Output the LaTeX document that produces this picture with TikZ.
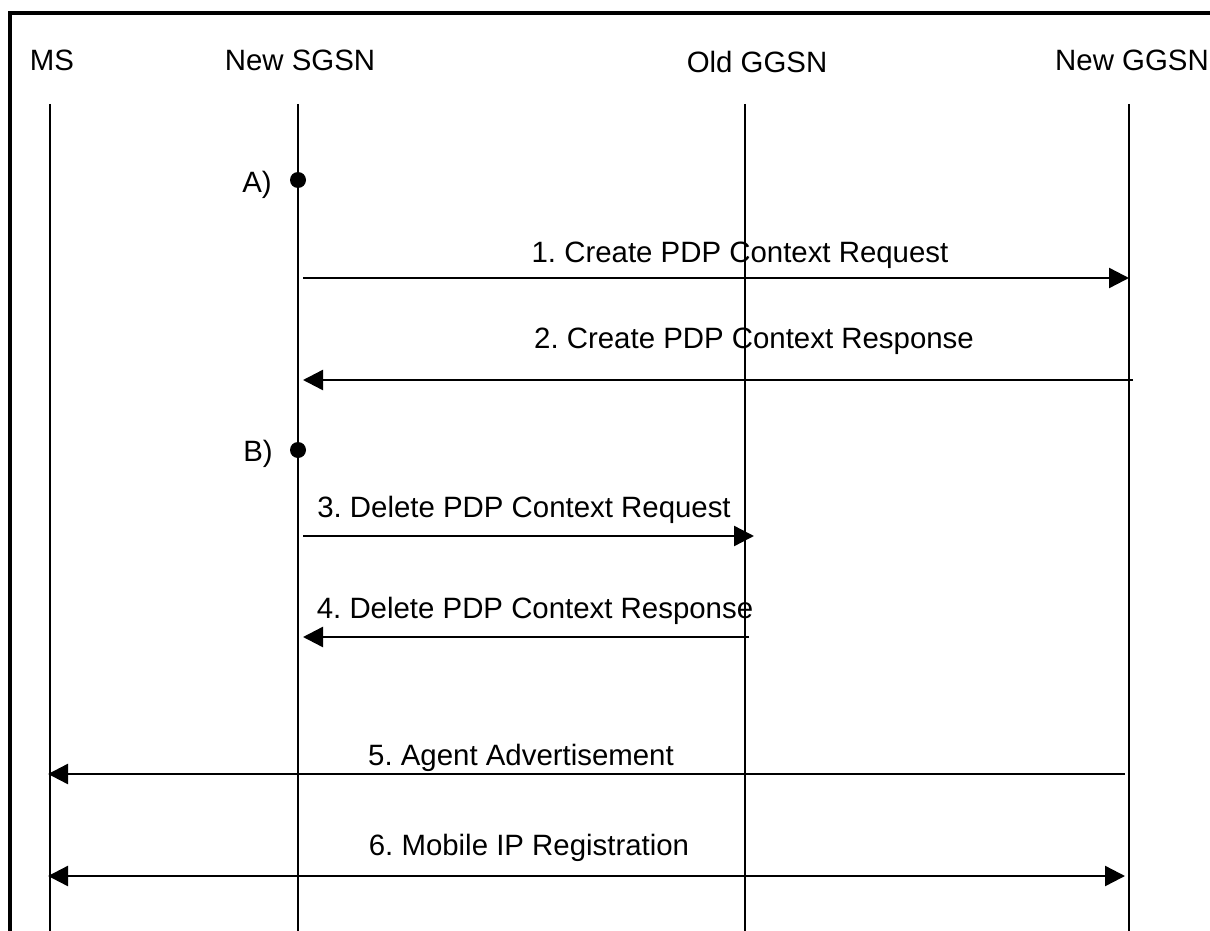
\documentclass[tikz,border=0pt]{standalone}
\usepackage{fontspec}
\setmainfont{Liberation Sans}
\usetikzlibrary{arrows.meta}
\frenchspacing

\begin{document}
\begin{tikzpicture}[x=0.5pt,y=-0.5pt]
            % Styles (MODIFIABLES)
            \tikzstyle{fleche}=[-{Triangle[length=10pt,width=10pt]},line width=1.2pt]
            \tikzstyle{flechedouble}=[{Triangle[length=10pt,width=10pt]}-{Triangle[length=10pt,width=10pt]},line width=1.2pt]
            \tikzstyle{vie}=[line width=1.2pt]
            \tikzstyle{cadre}=[line width=1.6pt]
            \tikzstyle{acteur}=[anchor=base,inner sep=0pt,font=\fontsize{14.7}{17}\selectfont]
            \tikzstyle{etiquette}=[anchor=base,inner sep=0pt,font=\fontsize{14.7}{17}\selectfont]
            \tikzstyle{point}=[circle,fill=black,inner sep=0pt,minimum size=8pt]
            % Dimensions (MODIFIABLES)
            \def\Haut{104}
            \def\Bas{940}
            \def\XMS{50}
            \def\XSGSN{298}
            \def\XOld{745}
            \def\XNew{1129}
            % Cadre
            \useasboundingbox (0,0) rectangle (1210,931);
            \clip (0,0) rectangle (1210,931);
            \draw[cadre] (10,13) rectangle (1240,960);
            % Entites
            \node[acteur] (MS) at (52,71) {MS};
            \node[acteur] (SGSN) at (300,71) {New SGSN};
            \node[acteur] (OGGSN) at (757,73) {Old GGSN};
            \node[acteur] (NGGSN) at (1132,71) {New GGSN};
            % Lignes de vie
            \coordinate (MSh) at (\XMS,\Haut);
            \coordinate (MSb) at (\XMS,\Bas);
            \coordinate (SGSNh) at (\XSGSN,\Haut);
            \coordinate (SGSNb) at (\XSGSN,\Bas);
            \coordinate (OGGSNh) at (\XOld,\Haut);
            \coordinate (OGGSNb) at (\XOld,\Bas);
            \coordinate (NGGSNh) at (\XNew,\Haut);
            \coordinate (NGGSNb) at (\XNew,\Bas);
            \draw[vie] (MSh)--(MSb);
            \draw[vie] (SGSNh)--(SGSNb);
            \draw[vie] (OGGSNh)--(OGGSNb);
            \draw[vie] (NGGSNh)--(NGGSNb);
            % Points A) et B)
            \node[point] (PA) at (\XSGSN,180) {};
            \node[etiquette] (LA) at (257,192) {A)};
            \node[point] (PB) at (\XSGSN,450) {};
            \node[etiquette] (LB) at (258,461) {B)};
            % Extremites des messages
            \coordinate (Ma) at (303,278);
            \coordinate (Mb) at (\XNew,278);
            \coordinate (Na) at (1133,380);
            \coordinate (Nb) at (303,380);
            \coordinate (Oa) at (303,536);
            \coordinate (Ob) at (754,536);
            \coordinate (Pa) at (749,637);
            \coordinate (Pb) at (303,637);
            \coordinate (Qa) at (1125,774);
            \coordinate (Qb) at (48,774);
            \coordinate (Ra) at (48,876);
            \coordinate (Rb) at (1125,876);
            % Messages
            \draw[fleche] (Ma)--(Mb);
            \node[etiquette] (EM) at (740,262) {1. Create PDP Context Request};
            \draw[fleche] (Na)--(Nb);
            \node[etiquette] (EN) at (754,348) {2. Create PDP Context Response};
            \draw[fleche] (Oa)--(Ob);
            \node[etiquette] (EO) at (524,517) {3. Delete PDP Context Request};
            \draw[fleche] (Pa)--(Pb);
            \node[etiquette] (EP) at (535,618) {4. Delete PDP Context Response};
            \draw[fleche] (Qa)--(Qb);
            \node[etiquette] (EQ) at (521,765) {5. Agent Advertisement};
            \draw[flechedouble] (Ra)--(Rb);
            \node[etiquette] (ER) at (529,855) {6. Mobile IP Registration};
\end{tikzpicture}
\end{document}
